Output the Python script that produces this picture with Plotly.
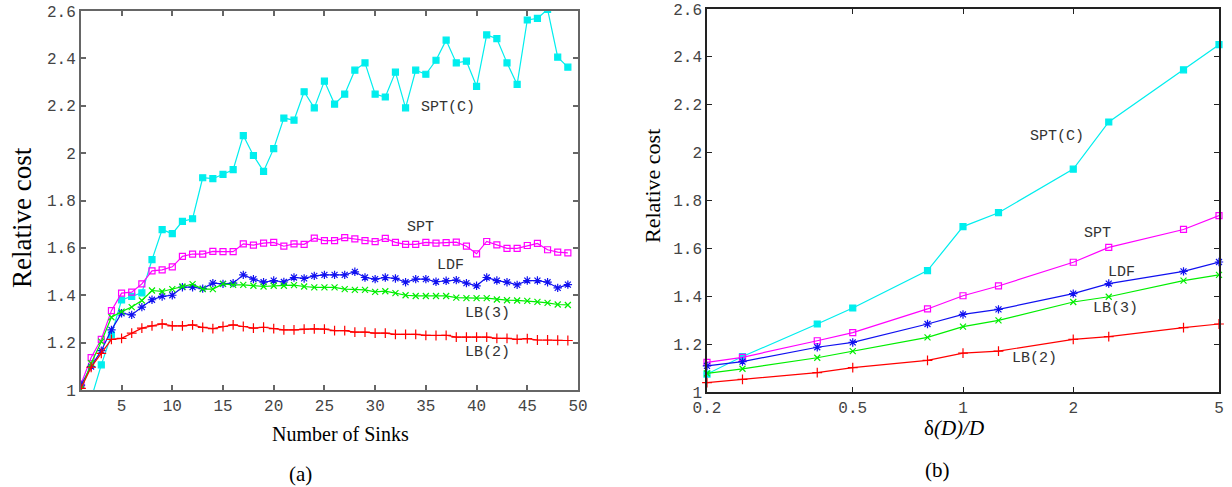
import math
import plotly.graph_objects as go

# ---------------- Panel (a): Number of Sinks ----------------
sinks = list(range(1, 50))

spt_c_a = [0.92, 0.963, 1.106, 1.233, 1.38, 1.395, 1.41, 1.55, 1.677, 1.66,
           1.712, 1.723, 1.896, 1.892, 1.91, 1.93, 2.074, 1.99, 1.923, 2.019,
           2.148, 2.139, 2.259, 2.191, 2.304, 2.207, 2.249, 2.35, 2.381, 2.249,
           2.237, 2.342, 2.191, 2.35, 2.333, 2.392, 2.477, 2.381, 2.388, 2.282,
           2.499, 2.483, 2.381, 2.29, 2.562, 2.569, 2.607, 2.405, 2.363]

spt_a = [1.025, 1.137, 1.214, 1.335, 1.409, 1.413, 1.448, 1.503, 1.507, 1.52,
         1.564, 1.574, 1.574, 1.585, 1.584, 1.584, 1.617, 1.612, 1.62, 1.623,
         1.607, 1.617, 1.615, 1.641, 1.631, 1.631, 1.643, 1.638, 1.631, 1.626,
         1.640, 1.623, 1.615, 1.615, 1.623, 1.620, 1.622, 1.624, 1.607, 1.575,
         1.627, 1.613, 1.598, 1.598, 1.610, 1.619, 1.592, 1.582, 1.579]

ldf_a = [1.021, 1.099, 1.166, 1.254, 1.324, 1.317, 1.35, 1.381, 1.395, 1.40,
         1.434, 1.434, 1.428, 1.451, 1.448, 1.451, 1.486, 1.468, 1.455, 1.462,
         1.456, 1.475, 1.471, 1.482, 1.486, 1.486, 1.486, 1.499, 1.475, 1.468,
         1.475, 1.471, 1.455, 1.468, 1.468, 1.457, 1.461, 1.464, 1.451, 1.440,
         1.475, 1.462, 1.455, 1.444, 1.462, 1.462, 1.455, 1.431, 1.445]

lb3_a = [1.003, 1.113, 1.204, 1.307, 1.331, 1.35, 1.378, 1.42, 1.416, 1.426,
         1.437, 1.447, 1.426, 1.426, 1.448, 1.444, 1.444, 1.440, 1.437, 1.440,
         1.440, 1.443, 1.437, 1.433, 1.433, 1.433, 1.426, 1.423, 1.423, 1.414,
         1.417, 1.409, 1.400, 1.397, 1.397, 1.397, 1.397, 1.390, 1.388, 1.388,
         1.388, 1.382, 1.379, 1.378, 1.376, 1.372, 1.368, 1.361, 1.359]

lb2_a = [1.007, 1.096, 1.155, 1.214, 1.218, 1.24, 1.261, 1.271, 1.279, 1.271,
         1.271, 1.275, 1.264, 1.259, 1.268, 1.275, 1.268, 1.261, 1.265, 1.259,
         1.254, 1.254, 1.257, 1.258, 1.257, 1.251, 1.251, 1.244, 1.244, 1.240,
         1.240, 1.235, 1.235, 1.235, 1.231, 1.230, 1.231, 1.223, 1.223, 1.223,
         1.223, 1.218, 1.218, 1.214, 1.217, 1.211, 1.211, 1.210, 1.209]

# ---------------- Panel (b): delta(D)/D ----------------
ratio = [0.2, 0.25, 0.4, 0.5, 0.8, 1.0, 1.25, 2.0, 2.5, 4.0, 5.0]
spt_c_b = [1.075, 1.148, 1.284, 1.351, 1.507, 1.691, 1.749, 1.931, 2.128, 2.346, 2.451]
spt_b = [1.124, 1.145, 1.214, 1.248, 1.347, 1.402, 1.443, 1.542, 1.604, 1.679, 1.737]
ldf_b = [1.109, 1.127, 1.187, 1.207, 1.284, 1.324, 1.345, 1.411, 1.453, 1.504, 1.543]
lb3_b = [1.078, 1.097, 1.143, 1.171, 1.228, 1.273, 1.299, 1.376, 1.398, 1.465, 1.489]
lb2_b = [1.039, 1.053, 1.081, 1.102, 1.132, 1.162, 1.171, 1.220, 1.231, 1.269, 1.284]

# tick labels
y_ticks = [1.0, 1.2, 1.4, 1.6, 1.8, 2.0, 2.2, 2.4, 2.6]
y_tick_text = ["1", "1.2", "1.4", "1.6", "1.8", "2", "2.2", "2.4", "2.6"]
xa_ticks = [5, 10, 15, 20, 25, 30, 35, 40, 45, 50]
xb_ticks = [0.2, 0.5, 1, 2, 5]
xb_tick_text = ["0.2", "0.5", "1", "2", "5"]

series_names = ["SPT(C)", "SPT", "LDF", "LB(3)", "LB(2)"]
colors = ["#00eeee", "#ff00ff", "#1010f0", "#00ee00", "#ff0000"]
symbols = ["square", "square-open", "asterisk-open", "x-thin-open", "cross-thin-open"]
msizes = [6, 6, 7, 6, 7]

W, H = 1232, 487

fig = go.Figure()

for vals, name, c, s, ms in zip([spt_c_a, spt_a, ldf_a, lb3_a, lb2_a], series_names, colors, symbols, msizes):
    fig.add_trace(go.Scatter(x=sinks, y=vals, mode="lines+markers", name=name,
                             line=dict(color=c, width=1.2),
                             marker=dict(symbol=s, size=ms, color=c, line=dict(color=c, width=1.2)),
                             xaxis="x", yaxis="y", showlegend=False))

for vals, name, c, s, ms in zip([spt_c_b, spt_b, ldf_b, lb3_b, lb2_b], series_names, colors, symbols, msizes):
    fig.add_trace(go.Scatter(x=ratio, y=vals, mode="lines+markers", name=name,
                             line=dict(color=c, width=1.2),
                             marker=dict(symbol=s, size=ms, color=c, line=dict(color=c, width=1.2)),
                             xaxis="x2", yaxis="y2", showlegend=False, cliponaxis=False))

tickfont = dict(family="Liberation Mono, Courier New, monospace", size=16, color="#444444")

def px_x(p):
    return p / W

def px_y(p):
    return 1 - p / H

common = dict(showgrid=False, zeroline=False, ticks="inside", ticklen=5, mirror="ticks",
              showline=True, tickfont=tickfont, automargin=False)

fig.update_layout(
    width=W, height=H,
    margin=dict(l=0, r=0, t=0, b=0, pad=0, autoexpand=False),
    paper_bgcolor="white", plot_bgcolor="white",
    hovermode=False,
    xaxis=dict(domain=[px_x(81), px_x(578)], range=[1, 50], tickvals=xa_ticks,
               linecolor="#666666", linewidth=2, tickcolor="#666666", tickwidth=1.5,
               anchor="y", **common),
    yaxis=dict(domain=[px_y(390), px_y(11)], range=[1, 2.6], tickvals=y_ticks, ticktext=y_tick_text,
               linecolor="#666666", linewidth=2, tickcolor="#666666", tickwidth=1.5,
               anchor="x", **common),
    xaxis2=dict(domain=[px_x(707), px_x(1219)], type="log", range=[math.log10(0.2), math.log10(5)],
                tickvals=xb_ticks, ticktext=xb_tick_text,
                linecolor="#222222", linewidth=1.5, tickcolor="#222222", tickwidth=1,
                anchor="y2", **common),
    yaxis2=dict(domain=[px_y(392), px_y(9)], range=[1, 2.6], tickvals=y_ticks, ticktext=y_tick_text,
                linecolor="#222222", linewidth=1.5, tickcolor="#222222", tickwidth=1,
                anchor="x2", **common),
)

lab_font = dict(family="Liberation Mono, Courier New, monospace", size=15, color="#333333")
annots = []
# panel (a) series labels
for txt, x, y in [("SPT(C)", 37.2, 2.192), ("SPT", 34.5, 1.685), ("LDF", 37.4, 1.524),
                  ("LB(3)", 41.06, 1.321), ("LB(2)", 41.06, 1.158)]:
    annots.append(dict(text=txt, x=x, y=y, xref="x", yref="y", showarrow=False, font=lab_font,
                       xanchor="center", yanchor="middle"))
# panel (b) series labels
for txt, x, y in [("SPT(C)", 1.805, 2.066), ("SPT", 2.336, 1.663), ("LDF", 2.713, 1.498),
                  ("LB(3)", 2.606, 1.348), ("LB(2)", 1.568, 1.141)]:
    annots.append(dict(text=txt, x=math.log10(x), y=y, xref="x2", yref="y2", showarrow=False, font=lab_font,
                       xanchor="center", yanchor="middle"))

serif = "Liberation Serif, Times New Roman, serif"
def paper_text(txt, x, y, size, angle=0):
    return dict(text=txt, x=px_x(x), y=px_y(y), xref="paper", yref="paper", showarrow=False,
                xanchor="center", yanchor="middle", textangle=angle,
                font=dict(family=serif, size=size, color="black"))

annots += [
    paper_text("Relative cost", 22, 218, 27, -90),
    paper_text("Relative cost", 652, 186, 22, -90),
    paper_text("Number of Sinks", 340, 434, 20),
    paper_text("δ<i>(D)/D</i>", 954, 428, 21),
    paper_text("(a)", 300, 474, 21),
    paper_text("(b)", 937, 470, 21),
]
fig.update_layout(annotations=annots)

fig.write_html("out.html", config={"displayModeBar": False},
               post_script="document.body.style.margin='0px';document.body.style.overflow='hidden';")
